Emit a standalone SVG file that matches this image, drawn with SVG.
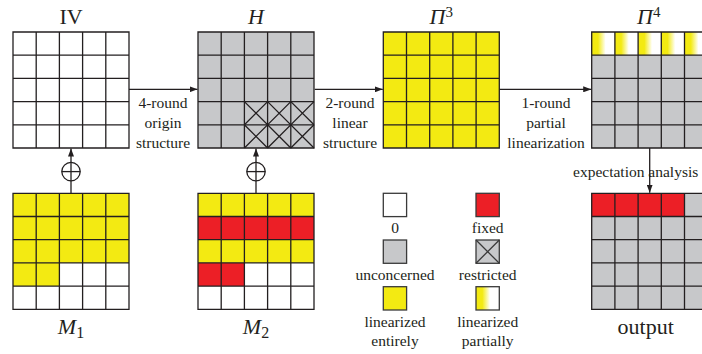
<svg xmlns="http://www.w3.org/2000/svg" xmlns:xlink="http://www.w3.org/1999/xlink" width="702" height="354" viewBox="0 0 702 354">
<style>
.ln{fill:none;stroke:#231f20;stroke-width:1.3}
.w{fill:#ffffff}
.g{fill:#c7c8ca}
.y{fill:#f3ea12}
.r{fill:#ec1f26}
.t{font-family:"Liberation Serif","Times New Roman",serif;font-size:15.5px;fill:#231f20;text-anchor:middle}
.ti{font-family:"Liberation Serif","Times New Roman",serif;font-size:22px;fill:#231f20;text-anchor:middle}
.it{font-style:italic}
.conn{fill:none;stroke:#231f20;stroke-width:1.3}
.lg{stroke:#3a3a3a;stroke-width:1.3}
</style>
<defs>
<path id="grid" class="ln" d="M0,0H116V116H0Z M23.2,0V116 M46.4,0V116 M69.6,0V116 M92.8,0V116 M0,23.2H116 M0,46.4H116 M0,69.6H116 M0,92.8H116"/>
<linearGradient id="part" x1="0" y1="0" x2="1" y2="0">
<stop offset="0" stop-color="#f3ea12"/>
<stop offset="0.27" stop-color="#f3ea12"/>
<stop offset="0.6" stop-color="#ffffff"/>
<stop offset="1" stop-color="#ffffff"/>
</linearGradient>
<marker id="ah" viewBox="0 0 8 6" refX="8" refY="3" markerWidth="8" markerHeight="6" markerUnits="userSpaceOnUse" orient="auto">
<path d="M0,0L8,3L0,6Z" fill="#231f20"/>
</marker>
</defs>

<g id="IV" transform="translate(13,32)">
<rect class="w" x="0" y="0" width="116" height="116"/>
<use xlink:href="#grid"/>
<text class="ti" x="58" y="-8">IV</text>
</g>

<g id="H" transform="translate(198,32)">
<rect class="g" x="0" y="0" width="116" height="116"/>
<path class="ln" stroke-width="1" d="M46.4,69.6L92.8,116 M69.6,69.6L116,116 M92.8,69.6L116,92.8 M46.4,92.8L69.6,116 M69.6,69.6L46.4,92.8 M92.8,69.6L46.4,116 M116,69.6L69.6,116 M116,92.8L92.8,116"/>
<use xlink:href="#grid"/>
<text class="ti it" x="58" y="-8">H</text>
</g>

<g id="Pi3" transform="translate(383.3,32)">
<rect class="y" x="0" y="0" width="116" height="116"/>
<use xlink:href="#grid"/>
<text class="ti" x="58" y="-8"><tspan class="it">Π</tspan><tspan font-size="15" dy="-7">3</tspan></text>
</g>

<g id="Pi4" transform="translate(591.7,32)">
<rect class="g" x="0" y="0" width="116" height="116"/>
<rect fill="url(#part)" x="0" y="0" width="23.2" height="23.2"/>
<rect fill="url(#part)" x="23.2" y="0" width="23.2" height="23.2"/>
<rect fill="url(#part)" x="46.4" y="0" width="23.2" height="23.2"/>
<rect fill="url(#part)" x="69.6" y="0" width="23.2" height="23.2"/>
<rect fill="url(#part)" x="92.8" y="0" width="23.2" height="23.2"/>
<use xlink:href="#grid"/>
<text class="ti" x="57" y="-8"><tspan class="it">Π</tspan><tspan font-size="15" dy="-7">4</tspan></text>
</g>

<g id="M1" transform="translate(13,193.3)">
<rect class="w" x="0" y="0" width="116" height="116"/>
<rect class="y" x="0" y="0" width="116" height="69.6"/>
<rect class="y" x="0" y="69.6" width="46.4" height="23.2"/>
<use xlink:href="#grid"/>
<text class="ti" x="58" y="141"><tspan class="it">M</tspan><tspan font-size="16" dy="4">1</tspan></text>
</g>

<g id="M2" transform="translate(198,193.3)">
<rect class="w" x="0" y="0" width="116" height="116"/>
<rect class="y" x="0" y="0" width="116" height="23.2"/>
<rect class="r" x="0" y="23.2" width="116" height="23.2"/>
<rect class="y" x="0" y="46.4" width="116" height="23.2"/>
<rect class="r" x="0" y="69.6" width="46.4" height="23.2"/>
<use xlink:href="#grid"/>
<text class="ti" x="58" y="141"><tspan class="it">M</tspan><tspan font-size="16" dy="4">2</tspan></text>
</g>

<g id="output" transform="translate(591.7,193.3)">
<rect class="g" x="0" y="0" width="116" height="116"/>
<rect class="r" x="0" y="0" width="92.8" height="23.2"/>
<use xlink:href="#grid"/>
<text class="ti" x="54" y="141" font-size="24">output</text>
</g>

<g id="connectors">
<line class="conn" x1="129" y1="89.3" x2="197.5" y2="89.3" marker-end="url(#ah)"/>
<line class="conn" x1="314.7" y1="89.3" x2="382.8" y2="89.3" marker-end="url(#ah)"/>
<line class="conn" x1="499.3" y1="89.3" x2="591.2" y2="89.3" marker-end="url(#ah)"/>
<line class="conn" x1="71" y1="193.3" x2="71" y2="148.6" marker-end="url(#ah)"/>
<circle class="conn" cx="71" cy="171.6" r="9.2"/>
<line class="conn" x1="61.8" y1="171.6" x2="80.2" y2="171.6"/>
<line class="conn" x1="256" y1="193.3" x2="256" y2="148.6" marker-end="url(#ah)"/>
<circle class="conn" cx="256" cy="171.6" r="9.2"/>
<line class="conn" x1="246.8" y1="171.6" x2="265.2" y2="171.6"/>
<line class="conn" x1="649.7" y1="148" x2="649.7" y2="192.7" marker-end="url(#ah)"/>
<text class="t" x="163" y="108">4-round</text>
<text class="t" x="163" y="128">origin</text>
<text class="t" x="163" y="147.5">structure</text>
<text class="t" x="350" y="108">2-round</text>
<text class="t" x="350" y="128">linear</text>
<text class="t" x="350" y="147.5">structure</text>
<text class="t" x="546" y="108">1-round</text>
<text class="t" x="546" y="128">partial</text>
<text class="t" x="546" y="147.5">linearization</text>
<text class="t" x="573" y="176.5" style="text-anchor:start">expectation analysis</text>
</g>

<g id="legend-zero">
<rect class="w lg" x="383.3" y="193.3" width="23.3" height="23.3"/>
<text class="t" x="395" y="233.3">0</text>
</g>
<g id="legend-fixed">
<rect class="r lg" x="476" y="193.3" width="23.3" height="23.3"/>
<text class="t" x="487.7" y="233.3">fixed</text>
</g>
<g id="legend-unconcerned">
<rect class="g lg" x="383.3" y="240" width="23.3" height="23.3"/>
<text class="t" x="395" y="280">unconcerned</text>
</g>
<g id="legend-restricted">
<rect class="g lg" x="476" y="240" width="23.3" height="23.3"/>
<path class="lg" fill="none" stroke-width="1" d="M476,240L499.3,263.3M499.3,240L476,263.3"/>
<text class="t" x="487.7" y="280">restricted</text>
</g>
<g id="legend-entire">
<rect class="y lg" x="383.3" y="286.7" width="23.3" height="23.3"/>
<text class="t" x="395" y="326.7">linearized</text>
<text class="t" x="395" y="345.7">entirely</text>
</g>
<g id="legend-partial">
<rect class="lg" fill="url(#part)" x="476" y="286.7" width="23.3" height="23.3"/>
<text class="t" x="487.7" y="326.7">linearized</text>
<text class="t" x="487.7" y="345.7">partially</text>
</g>
</svg>
